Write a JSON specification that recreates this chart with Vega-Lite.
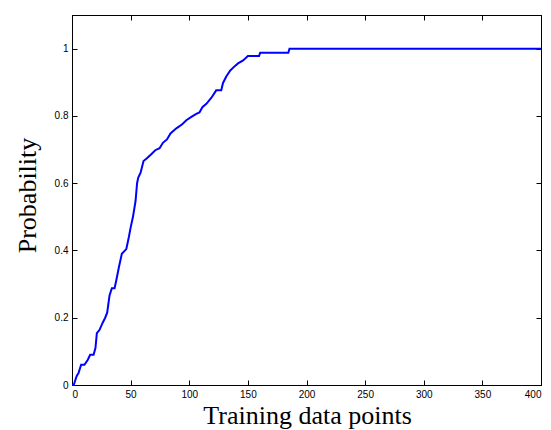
{
  "$schema": "https://vega.github.io/schema/vega-lite/v6.json",
  "autosize": "none",
  "padding": {"left": 72, "top": 15, "right": 10, "bottom": 45},
  "width": 469,
  "height": 370,
  "background": "white",
  "config": {
    "view": {"stroke": "black", "strokeWidth": 1},
    "axis": {
      "grid": false,
      "zindex": 1,
      "domainColor": "black",
      "tickColor": "black",
      "tickSize": -5,
      "labelFont": "Liberation Sans",
      "labelFontSize": 10,
      "labelColor": "black",
      "titleFont": "Liberation Serif",
      "titleFontSize": 26,
      "titleFontWeight": "normal",
      "titleColor": "black"
    }
  },
  "data": {"values": [
    {"x": 0, "y": 0}, {"x": 1.5, "y": 0}, {"x": 3.6, "y": 0.023}, {"x": 4.5, "y": 0.03},
    {"x": 5.5, "y": 0.035}, {"x": 7.8, "y": 0.06}, {"x": 10.6, "y": 0.06}, {"x": 13.5, "y": 0.075},
    {"x": 15.5, "y": 0.09}, {"x": 18.4, "y": 0.09}, {"x": 20, "y": 0.11}, {"x": 21.2, "y": 0.154},
    {"x": 23.5, "y": 0.164}, {"x": 26.3, "y": 0.186}, {"x": 28.3, "y": 0.2}, {"x": 30, "y": 0.215},
    {"x": 32, "y": 0.266}, {"x": 34, "y": 0.288}, {"x": 36.3, "y": 0.288}, {"x": 37.7, "y": 0.31},
    {"x": 40, "y": 0.35}, {"x": 42.5, "y": 0.39}, {"x": 46.3, "y": 0.404}, {"x": 48.5, "y": 0.44},
    {"x": 50, "y": 0.468}, {"x": 52, "y": 0.5}, {"x": 54.2, "y": 0.547}, {"x": 55.5, "y": 0.6},
    {"x": 56.5, "y": 0.617}, {"x": 58.5, "y": 0.631}, {"x": 61, "y": 0.666}, {"x": 63.9, "y": 0.674},
    {"x": 67.6, "y": 0.686}, {"x": 71, "y": 0.698}, {"x": 74.7, "y": 0.704}, {"x": 77.5, "y": 0.72},
    {"x": 81, "y": 0.73}, {"x": 84, "y": 0.748}, {"x": 89, "y": 0.763}, {"x": 94, "y": 0.775},
    {"x": 97.5, "y": 0.787}, {"x": 101.8, "y": 0.797}, {"x": 106, "y": 0.806}, {"x": 108.7, "y": 0.81},
    {"x": 111.2, "y": 0.826}, {"x": 114.6, "y": 0.836}, {"x": 118.9, "y": 0.854}, {"x": 123, "y": 0.876},
    {"x": 127.3, "y": 0.876}, {"x": 128.8, "y": 0.898}, {"x": 131.7, "y": 0.918}, {"x": 135, "y": 0.935},
    {"x": 138.8, "y": 0.948}, {"x": 141.6, "y": 0.956}, {"x": 145.9, "y": 0.965}, {"x": 150, "y": 0.978},
    {"x": 159.5, "y": 0.978}, {"x": 160.5, "y": 0.988}, {"x": 184.5, "y": 0.988}, {"x": 185.5, "y": 1},
    {"x": 400, "y": 1}
  ]},
  "resolve": {"axis": {"x": "independent", "y": "independent"}},
  "layer": [
    {
      "mark": {"type": "line", "color": "#0000ff", "strokeWidth": 2},
      "encoding": {
        "x": {"field": "x", "type": "quantitative",
          "scale": {"domain": [0, 400], "nice": false, "zero": false},
          "axis": {"orient": "bottom", "title": "Training data points", "format": "d", "values": [0,50,100,150,200,250,300,350,400], "labelPadding": 9, "titleBaseline": "alphabetic", "titleY": 38, "titleX": 235}},
        "y": {"field": "y", "type": "quantitative",
          "scale": {"domain": [0, 1.1], "nice": false},
          "axis": {"orient": "left", "title": "Probability", "format": "~g", "values": [0,0.2,0.4,0.6,0.8,1], "labelPadding": 9, "titleBaseline": "alphabetic", "titleX": -37, "titleY": 180}}
      }
    },
    {
      "mark": {"type": "line", "opacity": 0},
      "encoding": {
        "x": {"field": "x", "type": "quantitative",
          "scale": {"domain": [0, 400], "nice": false, "zero": false},
          "axis": {"orient": "top", "title": null, "labels": false, "values": [0,50,100,150,200,250,300,350,400]}},
        "y": {"field": "y", "type": "quantitative",
          "scale": {"domain": [0, 1.1], "nice": false},
          "axis": {"orient": "right", "title": null, "labels": false, "values": [0,0.2,0.4,0.6,0.8,1]}}
      }
    }
  ]
}
